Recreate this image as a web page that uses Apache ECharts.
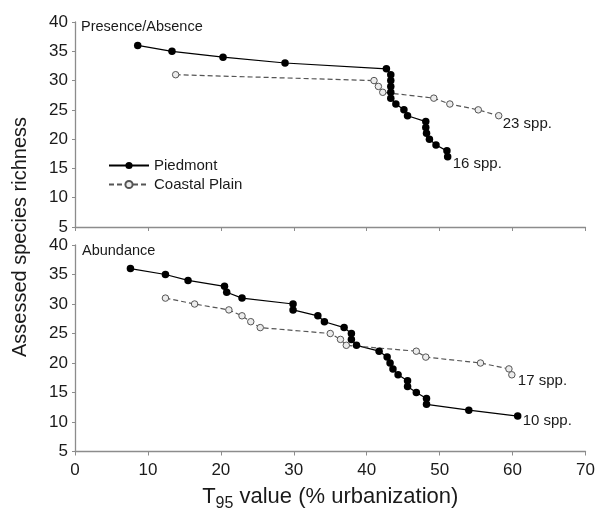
<!DOCTYPE html>
<html>
<head>
<meta charset="utf-8">
<script src="https://cdn.jsdelivr.net/npm/echarts@6/dist/echarts.min.js"></script>
<style>html,body{margin:0;padding:0;background:#fff;}#c{width:598px;height:508px;}</style>
</head>
<body>
<div id="c"></div>
<script>
// ---- Data ----
var seriesNames = ['Piedmont', 'Coastal Plain'];
var panelLabels = ['Presence/Absence', 'Abundance'];
var xTicks = [0, 10, 20, 30, 40, 50, 60, 70];
var yTicks = [5, 10, 15, 20, 25, 30, 35, 40];

// Presence/Absence panel
var piedPA_x = [8.6, 13.3, 20.3, 28.8, 42.7, 43.3, 43.3, 43.3, 43.3, 43.3, 44.0, 45.1, 45.6, 48.1, 48.1, 48.2, 48.6, 49.5, 51.0, 51.1];
var piedPA_y = [36, 35, 34, 33, 32, 31, 30, 29, 28, 27, 26, 25, 24, 23, 22, 21, 20, 19, 18, 17];
var coastPA_x = [13.8, 41.0, 41.6, 42.2, 49.2, 51.4, 55.3, 58.1];
var coastPA_y = [31, 30, 29, 28, 27, 26, 25, 24];

// Abundance panel
var piedAB_x = [7.6, 12.4, 15.5, 20.5, 20.8, 22.9, 29.9, 29.9, 33.3, 34.2, 36.9, 37.9, 37.9, 38.6, 41.7, 42.8, 43.2, 43.6, 44.3, 45.6, 45.6, 46.8, 48.2, 48.2, 54.0, 60.7];
var piedAB_y = [36, 35, 34, 33, 32, 31, 30, 29, 28, 27, 26, 25, 24, 23, 22, 21, 20, 19, 18, 17, 16, 15, 14, 13, 12, 11];
var coastAB_x = [12.4, 16.4, 21.1, 22.9, 24.1, 25.4, 35.0, 36.4, 37.2, 46.8, 48.1, 55.6, 59.5, 59.9];
var coastAB_y = [31, 30, 29, 28, 27, 26, 25, 24, 23, 22, 21, 20, 19, 18];

var endLabels = { piedPA: '16 spp.', coastPA: '23 spp.', piedAB: '10 spp.', coastAB: '17 spp.' };

// ---- Build ----
function pairs(xs, ys) { return xs.map(function (x, i) { return [x, ys[i]]; }); }
var FONT = 'Liberation Sans, Arial, sans-serif';
var axisGray = '#8c8c8c';

function xAxisCfg(idx, showLabels) {
  return {
    type: 'value', gridIndex: idx, min: xTicks[0], max: xTicks[xTicks.length - 1], interval: 10,
    axisLine: { show: true, lineStyle: { color: axisGray, width: 1.3 } },
    axisTick: { show: true, length: 4, lineStyle: { color: axisGray, width: 1 } },
    axisLabel: { show: showLabels, color: '#1a1a1a', fontSize: 17, fontFamily: FONT, margin: 10 },
    splitLine: { show: false },
    name: showLabels ? '{t|T}{s|95}{t| value (% urbanization)}' : '',
    nameLocation: 'middle', nameGap: 30,
    nameTextStyle: {
      fontFamily: FONT, color: '#1a1a1a',
      rich: {
        t: { fontSize: 22, fontFamily: FONT, color: '#1a1a1a', lineHeight: 30 },
        s: { fontSize: 16, fontFamily: FONT, color: '#1a1a1a', lineHeight: 14, verticalAlign: 'bottom' }
      }
    }
  };
}
function yAxisCfg(idx) {
  return {
    type: 'value', gridIndex: idx, min: yTicks[0], max: yTicks[yTicks.length - 1], interval: 5,
    axisLine: { show: true, lineStyle: { color: axisGray, width: 1.3 } },
    axisTick: { show: true, length: 3, lineStyle: { color: axisGray, width: 1 } },
    axisLabel: { color: '#1a1a1a', fontSize: 17, fontFamily: FONT, margin: 7 },
    splitLine: { show: false }
  };
}
function pied(name, idx, data, lbl, off) {
  return {
    name: name, type: 'line', xAxisIndex: idx, yAxisIndex: idx, data: data,
    symbol: 'circle', symbolSize: 7.5, color: '#000',
    itemStyle: { color: '#000' },
    lineStyle: { color: '#000', width: 1.2, type: 'solid' },
    emphasis: { disabled: true }, animation: false,
    endLabel: { show: true, formatter: lbl, fontSize: 15, fontFamily: FONT, color: '#1a1a1a', distance: 5, offset: off }
  };
}
function coast(name, idx, data, lbl, off) {
  return {
    name: name, type: 'line', xAxisIndex: idx, yAxisIndex: idx, data: data,
    symbol: 'circle', symbolSize: 6.5, color: '#555',
    itemStyle: { color: '#ececec', borderColor: '#555', borderWidth: 1 },
    lineStyle: { color: '#555', width: 1.2, type: [5, 3] },
    emphasis: { disabled: true }, animation: false,
    endLabel: { show: true, formatter: lbl, fontSize: 15, fontFamily: FONT, color: '#1a1a1a', distance: 4, offset: off }
  };
}

var option = {
  backgroundColor: '#fff',
  animation: false,
  grid: [
    { left: 75, right: 12.5, top: 22, bottom: 281, outerBoundsMode: 'none', containLabel: false },
    { left: 75, right: 12.5, top: 245, bottom: 56.5, outerBoundsMode: 'none', containLabel: false }
  ],
  xAxis: [xAxisCfg(0, false), xAxisCfg(1, true)],
  yAxis: [yAxisCfg(0), yAxisCfg(1)],
  legend: {
    data: seriesNames, orient: 'vertical', left: 108, top: 158, padding: 0,
    itemWidth: 40, itemHeight: 9, itemGap: 4,
    textStyle: { fontSize: 15, fontFamily: FONT, color: '#1a1a1a' }
  },
  graphic: [
    { type: 'text', left: 81, top: 19, style: { text: panelLabels[0], fontSize: 14.5, fontFamily: FONT, fill: '#1a1a1a' } },
    { type: 'text', left: 82, top: 243, style: { text: panelLabels[1], fontSize: 14.5, fontFamily: FONT, fill: '#1a1a1a' } },
    { type: 'text', rotation: Math.PI / 2, x: 20, y: 237,
      style: { text: 'Assessed species richness', fontSize: 20, fontFamily: FONT, fill: '#1a1a1a', align: 'center', verticalAlign: 'middle' } }
  ],
  series: [
    pied(seriesNames[0], 0, pairs(piedPA_x, piedPA_y), endLabels.piedPA, [0, 7]),
    coast(seriesNames[1], 0, pairs(coastPA_x, coastPA_y), endLabels.coastPA, [0, 8]),
    pied(seriesNames[0], 1, pairs(piedAB_x, piedAB_y), endLabels.piedAB, [0, 5]),
    coast(seriesNames[1], 1, pairs(coastAB_x, coastAB_y), endLabels.coastAB, [2, 6])
  ]
};
var chart = echarts.init(document.getElementById('c'), null, { renderer: 'canvas' });
chart.setOption(option);
</script>
</body>
</html>
